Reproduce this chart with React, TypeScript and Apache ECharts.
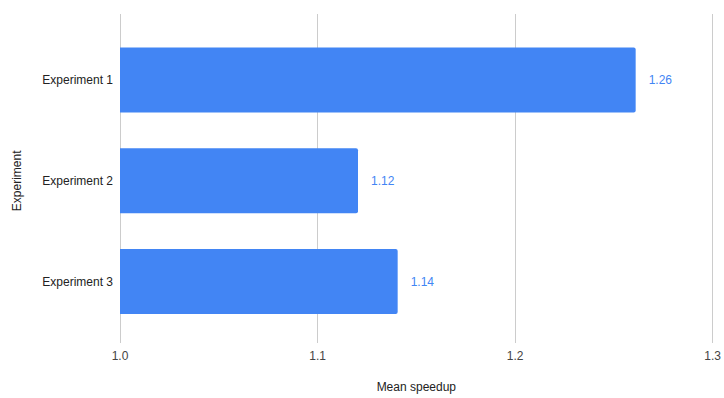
import React, { useEffect, useRef } from "react";
import * as echarts from "echarts";

// Chart data
const experiments = ["Experiment 1", "Experiment 2", "Experiment 3"];
const meanSpeedup = [1.26, 1.12, 1.14];
const speedupMin = 1.0;
const speedupMax = 1.3;
const speedupStep = 0.1;

const FONT = "'Liberation Sans', Arial, sans-serif";
const BLUE = "#4285f4";

export default function App() {
  const ref = useRef<HTMLDivElement | null>(null);

  useEffect(() => {
    if (!ref.current) return;
    const chart = echarts.init(ref.current, null, { renderer: "svg" });

    chart.setOption({
      animation: false,
      backgroundColor: "#ffffff",
      textStyle: { fontFamily: FONT },
      grid: [
        // full-height grid: vertical gridlines, tick labels and x title
        { left: 120, right: 9, top: 14, height: 335 },
        // bar grid: category bands
        { left: 120, right: 9, top: 29.6, height: 302.4 },
      ],
      xAxis: [
        {
          gridIndex: 0,
          type: "value",
          min: speedupMin,
          max: speedupMax,
          interval: speedupStep,
          axisLine: { show: false },
          axisTick: { show: false },
          splitLine: { show: true, lineStyle: { color: "#cccccc", width: 1 } },
          axisLabel: {
            color: "#444444",
            fontSize: 12,
            fontFamily: FONT,
            margin: 7,
            formatter: (v: number) => v.toFixed(1),
          },
          name: "Mean speedup",
          nameLocation: "middle",
          nameGap: 38,
          nameTextStyle: { color: "#222222", fontSize: 12, fontFamily: FONT },
        },
        {
          gridIndex: 1,
          type: "value",
          min: speedupMin,
          max: speedupMax,
          interval: speedupStep,
          show: false,
          splitLine: { show: false },
        },
      ],
      yAxis: [
        {
          gridIndex: 0,
          type: "value",
          show: false,
          splitLine: { show: false },
        },
        {
          gridIndex: 1,
          type: "category",
          inverse: true,
          data: experiments,
          axisLine: { show: false },
          axisTick: { show: false },
          axisLabel: {
            color: "#222222",
            fontSize: 12,
            fontFamily: FONT,
            margin: 7,
          },
          name: "Experiment",
          nameLocation: "middle",
          nameGap: 97,
          nameRotate: 90,
          nameTextStyle: { color: "#222222", fontSize: 12, fontFamily: FONT },
        },
      ],
      series: [
        {
          type: "bar",
          xAxisIndex: 1,
          yAxisIndex: 1,
          data: meanSpeedup,
          barWidth: 65,
          itemStyle: { color: BLUE, borderRadius: [0, 2, 2, 0] },
          label: {
            show: true,
            position: "right",
            distance: 13,
            color: BLUE,
            fontSize: 12,
            fontFamily: FONT,
            formatter: (p: any) => Number(p.value).toFixed(2),
          },
        },
      ],
    });

    return () => chart.dispose();
  }, []);

  return (
    <div
      ref={ref}
      style={{ position: "fixed", left: 0, top: 0, width: 724, height: 398 }}
    />
  );
}
